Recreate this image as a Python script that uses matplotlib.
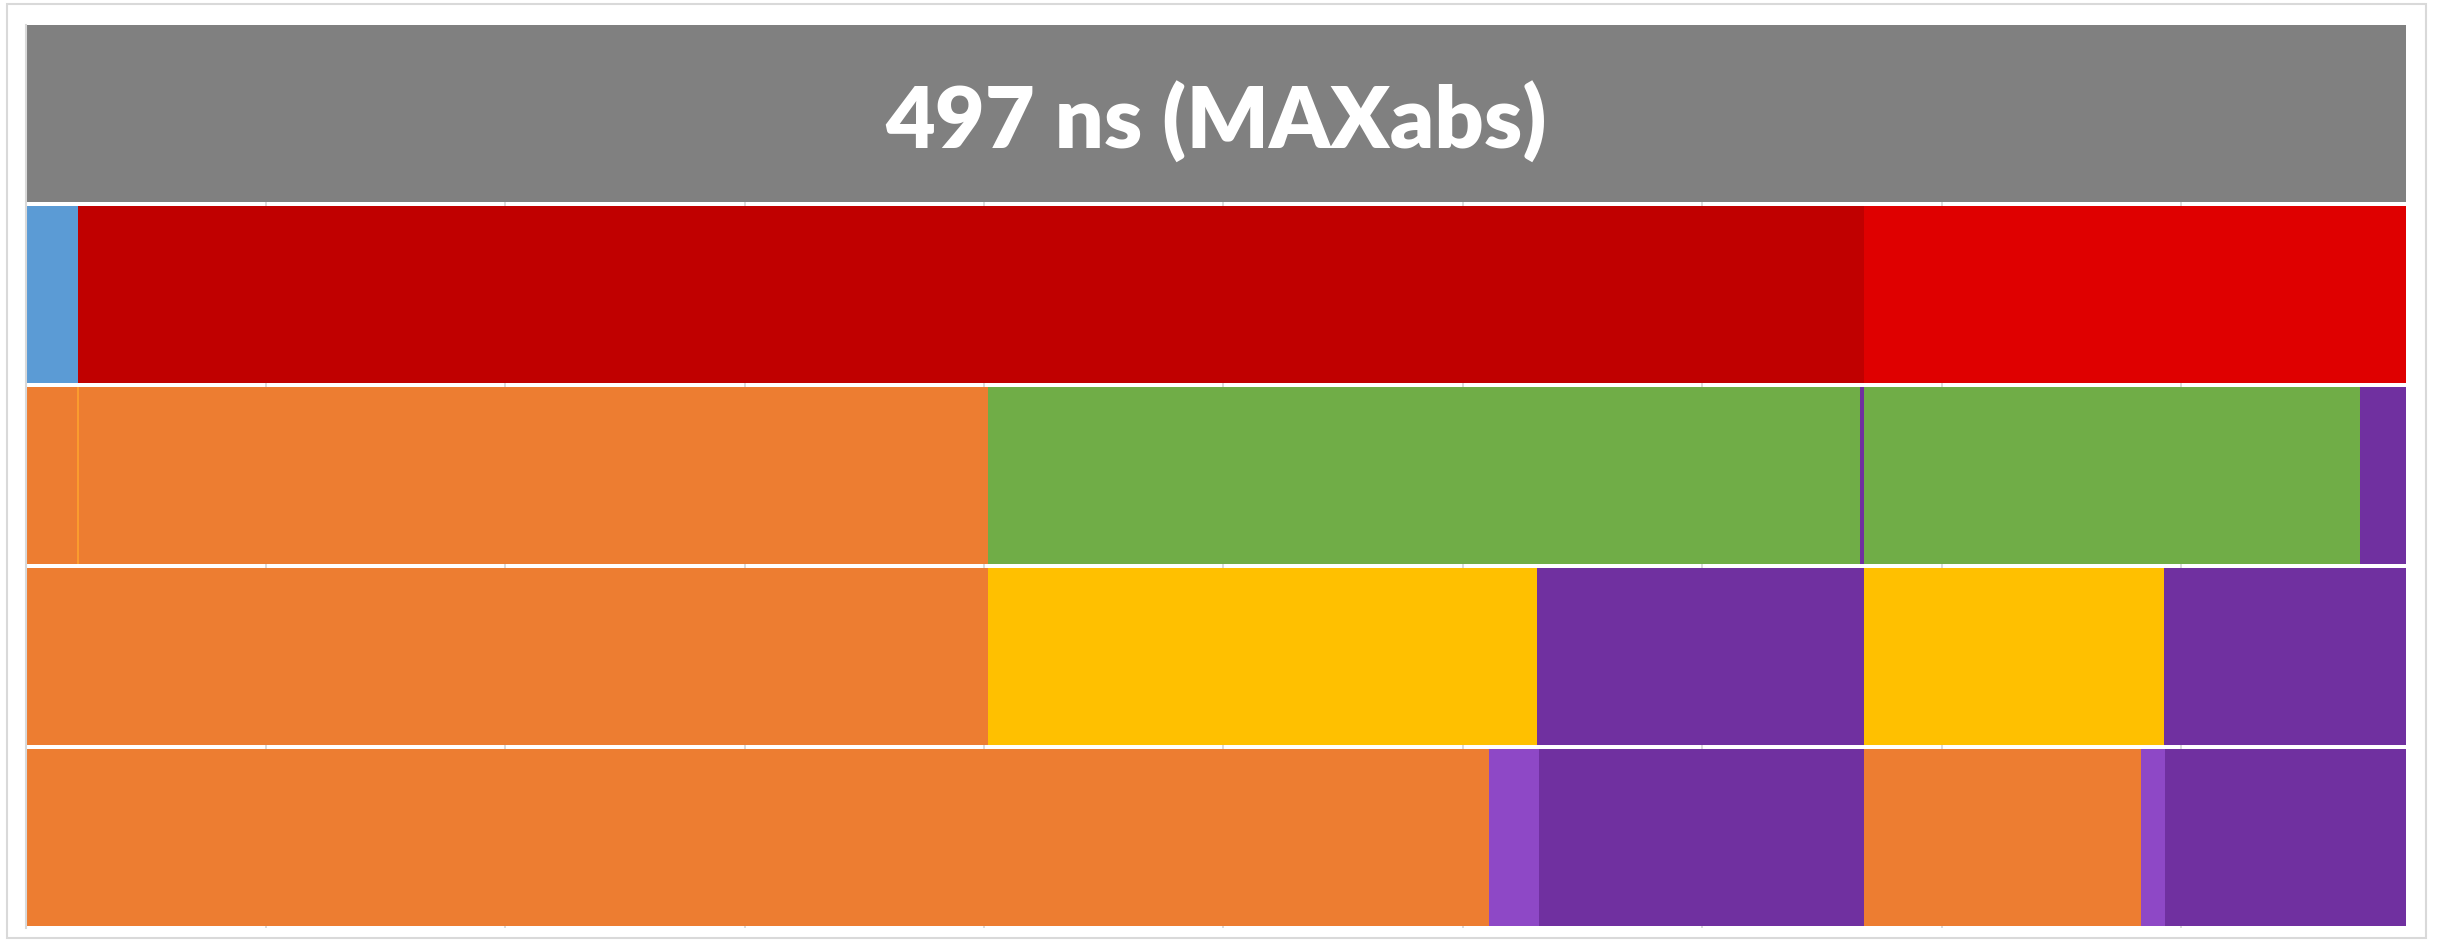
import matplotlib
matplotlib.use("Agg")
import matplotlib.pyplot as plt
from matplotlib.patches import Rectangle
import numpy as np

# ---- data (ns) ----
total_ns = 497
title_text = "497 ns (MAXabs)"

row1_durations = [10.75, 373.15, 113.1]
row1_colors = ["#5B9BD5", "#C00000", "#DF0000"]

row2_durations = [10.75, 190.05, 182.2, 0.9, 103.4, 9.7]
row2_colors = ["#ED7D31", "#ED7D31", "#70AD47", "#7030A0", "#70AD47", "#7030A0"]

row3_durations = [200.8, 114.8, 68.3, 62.5, 50.6]
row3_colors = ["#ED7D31", "#FFC000", "#7030A0", "#FFC000", "#7030A0"]

row4_durations = [305.5, 10.5, 67.9, 57.8, 4.9, 50.4]
row4_colors = ["#ED7D31", "#8E48C6", "#7030A0", "#ED7D31", "#8E48C6", "#7030A0"]

grid_step = 50

# ---- figure ----
W, H = 2438, 942
fig = plt.figure(figsize=(W / 100, H / 100), dpi=100)
fig.patch.set_facecolor("white")
fig.patches.append(Rectangle((7 / W, 4 / H), (2426 - 7) / W, (938 - 4) / H,
                             transform=fig.transFigure, fill=False,
                             edgecolor="#D9D9D9", linewidth=1.5))

ax_top, ax_bot = 25, 928
ax = fig.add_axes([26.3 / W, (H - ax_bot) / H, (2406 - 26.3) / W, (ax_bot - ax_top) / H])
ax.set_xlim(0, total_ns)
bar_h = 0.978
ax.set_ylim(-0.5, 4.5 - (1 - bar_h) / 2)
row_px = (ax_bot - ax_top) / (5 - (1 - bar_h) / 2)

# title bar (top row)
ax.barh(4, total_ns, left=0, height=bar_h, color="#808080", linewidth=0, zorder=2)

rows = [(3, row1_durations, row1_colors),
        (2, row2_durations, row2_colors),
        (1, row3_durations, row3_colors),
        (0, row4_durations, row4_colors)]
for y, durs, cols in rows:
    lefts = np.concatenate([[0], np.cumsum(durs)[:-1]])
    ax.barh([y] * len(durs), durs, left=lefts, height=bar_h, color=cols,
            linewidth=0, zorder=2)

# thin lighter separator inside row 2 between the two orange segments
ax.vlines(row2_durations[0], 2 - bar_h / 2, 2 + bar_h / 2, color="#FFA32E",
          linewidth=1.2, zorder=3)

ax.text(total_ns / 2, 4 - 35.7 / row_px, title_text, ha="center", va="baseline",
        color="white", fontsize=62, fontweight="heavy", family="Lato", zorder=4)

ax.set_xticks(np.arange(0, total_ns + 1, grid_step))
ax.grid(axis="x", color="#D9D9D9", linewidth=1.3, zorder=0)
ax.set_axisbelow(True)
ax.tick_params(left=False, bottom=False, labelleft=False, labelbottom=False)
for s in ["top", "right", "bottom"]:
    ax.spines[s].set_visible(False)
ax.spines["left"].set_color("#D9D9D9")
ax.spines["left"].set_linewidth(1.5)

fig.savefig("out.png", dpi=100, facecolor="white")
